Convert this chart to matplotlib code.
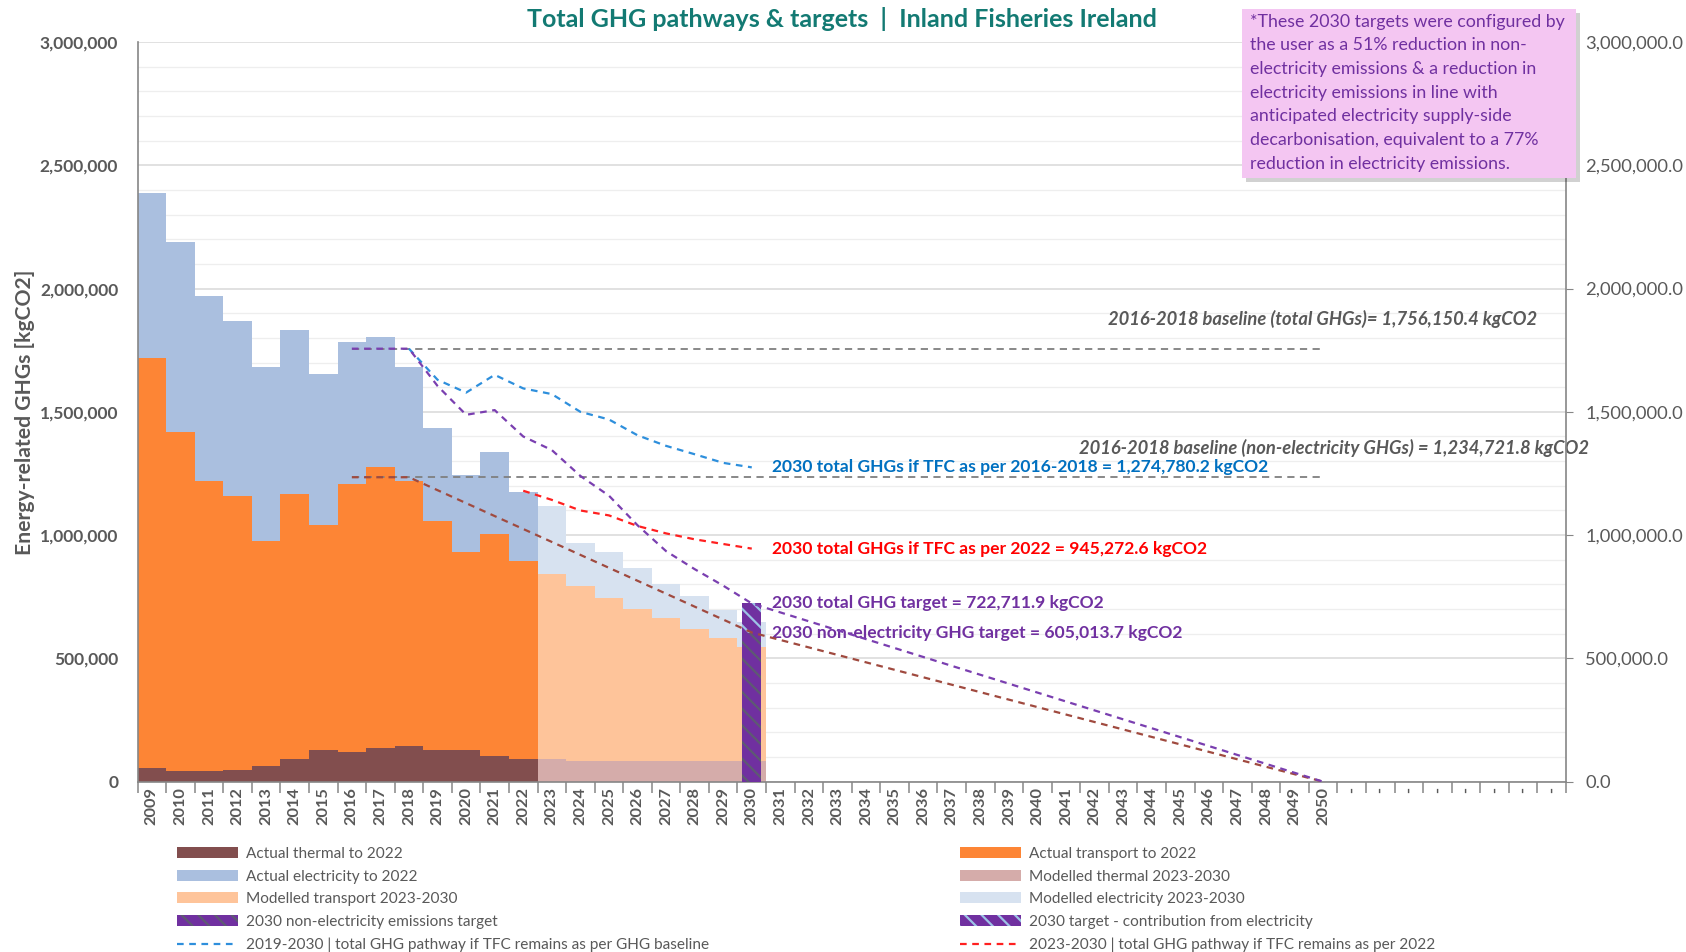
import numpy as np
import matplotlib
matplotlib.use("Agg")
import matplotlib.pyplot as plt
import matplotlib.patches as mpatches
from matplotlib.lines import Line2D
from matplotlib.ticker import FuncFormatter, MultipleLocator

plt.rcParams['font.family'] = ['Lato', 'DejaVu Sans']
plt.rcParams['hatch.linewidth'] = 1.6

# ---- data (kgCO2) ----
years_actual = list(range(2009, 2023))
thermal_actual = [55e3, 42e3, 42e3, 47e3, 63e3, 93e3, 128e3, 120e3, 137e3, 145e3, 128e3, 128e3, 106e3, 92e3]
transport_actual = [1665e3, 1378e3, 1179e3, 1113e3, 913e3, 1075e3, 914e3, 1088e3, 1138e3, 1076e3, 930e3, 804e3, 900e3, 804e3]
electricity_actual = [666e3, 768e3, 750e3, 709e3, 704e3, 662e3, 610e3, 577e3, 527e3, 460e3, 376e3, 310e3, 333e3, 278e3]

years_model = list(range(2023, 2031))
thermal_model = [90e3, 84e3, 84e3, 84e3, 84e3, 84e3, 84e3, 84e3]
transport_model = [752e3, 708e3, 661e3, 617e3, 578e3, 537e3, 498e3, 461e3]
electricity_model = [276e3, 176e3, 187e3, 165e3, 139e3, 131e3, 114e3, 104e3]

target_year = 2030
target_total = 722711.9
target_nonelec = 605013.7

baseline_total = 1756150.4
baseline_nonelec = 1234721.8
baseline_years = [2016, 2050]

blue_years = list(range(2018, 2031))
blue_vals = [1756150.4, 1630e3, 1578e3, 1650e3, 1595e3, 1572e3, 1500e3, 1469e3, 1405e3, 1362e3, 1328e3, 1293e3, 1274780.2]

red_years = list(range(2022, 2031))
red_vals = [1180e3, 1143e3, 1100e3, 1080e3, 1037e3, 1007e3, 983e3, 964e3, 945272.6]

purple_years = list(range(2016, 2031)) + [2050]
purple_vals = [1756150.4, 1756150.4, 1756150.4, 1605e3, 1488e3, 1507e3, 1400e3, 1345e3, 1240e3,
               1160e3, 1040e3, 935e3, 862e3, 795e3, 722711.9, 0]

brown_years = [2016, 2018, 2030, 2050]
brown_vals = [1234721.8, 1234721.8, 605013.7, 0]

all_years = list(range(2009, 2059))
year_labels = [str(y) for y in range(2009, 2051)] + ['-'] * 8

note_lines = [
    "*These 2030 targets were configured by",
    "the user as a 51% reduction in non-",
    "electricity emissions & a reduction in",
    "electricity emissions in line with",
    "anticipated electricity supply-side",
    "decarbonisation, equivalent to a 77%",
    "reduction in electricity emissions.",
]

# ---- colours ----
c_thermal, c_transport, c_elec = '#824e4e', '#fd8535', '#aabfdf'
c_thermal_m, c_transport_m, c_elec_m = '#d5acaa', '#fec49a', '#d7e2f0'
c_purple = '#7030a0'
c_grey_txt = '#595959'
c_axis = '#868686'

fig = plt.figure(figsize=(16.86, 9.52), dpi=100)
ax = fig.add_axes([0.0816, 0.1789, 0.8472, 0.777])

# stacked bars
b1 = np.array(thermal_actual)
b2 = b1 + np.array(transport_actual)
ax.bar(years_actual, thermal_actual, width=1, color=c_thermal, lw=0, zorder=2)
ax.bar(years_actual, transport_actual, bottom=b1, width=1, color=c_transport, lw=0, zorder=2)
ax.bar(years_actual, electricity_actual, bottom=b2, width=1, color=c_elec, lw=0, zorder=2)
m1 = np.array(thermal_model)
m2 = m1 + np.array(transport_model)
ax.bar(years_model, thermal_model, width=1, color=c_thermal_m, lw=0, zorder=2)
ax.bar(years_model, transport_model, bottom=m1, width=1, color=c_transport_m, lw=0, zorder=2)
ax.bar(years_model, electricity_model, bottom=m2, width=1, color=c_elec_m, lw=0, zorder=2)

# 2030 target bar
ax.bar(target_year, target_nonelec, width=0.67, color=c_purple, edgecolor='#5d5a72',
       hatch='\\\\', lw=0, zorder=3)
ax.bar(target_year, target_total - target_nonelec, bottom=target_nonelec, width=0.67,
       color=c_purple, edgecolor='#9dc3e6', hatch='\\\\', lw=0, zorder=3)

# pathway lines
ax.plot(baseline_years, [baseline_total] * 2, color='#7f7f7f', lw=1.3, dashes=(4, 3), zorder=4)
ax.plot(baseline_years, [baseline_nonelec] * 2, color='#7f7f7f', lw=1.3, dashes=(4, 3), zorder=4)
ax.plot(blue_years, blue_vals, color='#2e8fdc', lw=1.6, dashes=(3, 2.5), zorder=5)
ax.plot(red_years, red_vals, color='#ff2020', lw=1.6, dashes=(3, 2.5), zorder=5)
ax.plot(brown_years, brown_vals, color='#a04a3f', lw=1.6, dashes=(3, 2.5), zorder=5)
ax.plot(purple_years, purple_vals, color='#7a3fb0', lw=1.6, dashes=(3, 2.5), zorder=5)

# annotations
ax.text(2057.5, 1.875e6, "2016-2018 baseline (total GHGs)= 1,756,150.4 kgCO2", ha='right', va='center',
        fontsize=13.2, style='italic', fontweight='bold', color=c_grey_txt, zorder=6)
ax.text(2059.3, 1.352e6, "2016-2018 baseline (non-electricity GHGs) = 1,234,721.8 kgCO2", ha='right',
        va='center', fontsize=13.2, style='italic', fontweight='bold', color=c_grey_txt, zorder=6, clip_on=False)
ax.text(2030.7, 1274780.2, "2030 total GHGs if TFC as per 2016-2018 = 1,274,780.2 kgCO2", va='center',
        fontsize=12.6, fontweight='bold', color='#0070c0', zorder=6)
ax.text(2030.7, 945272.6, "2030 total GHGs if TFC as per 2022 = 945,272.6 kgCO2", va='center',
        fontsize=12.6, fontweight='bold', color='#ff0000', zorder=6)
ax.text(2030.7, target_total, "2030 total GHG target = 722,711.9 kgCO2", va='center',
        fontsize=12.6, fontweight='bold', color=c_purple, zorder=6)
ax.text(2030.7, target_nonelec, "2030 non-electricity GHG target = 605,013.7 kgCO2", va='center',
        fontsize=12.6, fontweight='bold', color=c_purple, zorder=4)

# axes styling
ax.set_xlim(2008.5, 2058.5)
ax.set_ylim(0, 3e6)
ax.yaxis.set_major_locator(MultipleLocator(5e5))
ax.yaxis.set_minor_locator(MultipleLocator(1e5))
ax.yaxis.set_major_formatter(FuncFormatter(lambda v, p: f"{v:,.0f}"))
ax.grid(axis='y', which='major', color='#d9d9d9', lw=1.1, zorder=0)
ax.grid(axis='y', which='minor', color='#eeeeee', lw=0.9, zorder=0)
ax.set_axisbelow(True)
ax.tick_params(axis='y', which='both', length=0, pad=14, labelsize=12.5, labelcolor=c_grey_txt)
for lab in ax.get_yticklabels():
    lab.set_fontweight('bold')

ax.set_xticks(np.arange(2008.5, 2059, 1))
ax.set_xticklabels([])
ax.set_xticks(all_years, minor=True)
ax.set_xticklabels(year_labels, minor=True, rotation=90, fontsize=11.8, color=c_grey_txt, fontweight='bold')
ax.tick_params(axis='x', which='major', length=8, color=c_axis, width=1.1)
ax.tick_params(axis='x', which='minor', length=0, pad=4)

for s in ['top', 'right']:
    ax.spines[s].set_visible(False)
for s in ['left', 'bottom']:
    ax.spines[s].set_color(c_axis)
    ax.spines[s].set_linewidth(1.2)

ax2 = ax.twinx()
ax2.set_ylim(0, 3e6)
ax2.yaxis.set_major_locator(MultipleLocator(5e5))
ax2.yaxis.set_major_formatter(FuncFormatter(lambda v, p: f"{v:,.1f}"))
ax2.tick_params(axis='y', length=5, color=c_axis, pad=9, labelsize=13.2, labelcolor=c_grey_txt)
for s in ['top', 'left', 'bottom']:
    ax2.spines[s].set_visible(False)
ax2.spines['right'].set_color(c_axis)
ax2.spines['right'].set_linewidth(1.2)

# titles
fig.text(0.4994, 0.980, "Total GHG pathways & targets  |  Inland Fisheries Ireland", ha='center', va='center',
         fontsize=18, fontweight='bold', color='#137a73')
fig.text(25 / 1686, 1 - 412 / 952, "Energy-related GHGs [kgCO2]", rotation=90, ha='center', va='center',
         fontsize=15.2, fontweight='bold', color=c_grey_txt)

# note box
shadow = mpatches.Rectangle((1246 / 1686, 1 - 182 / 952), 334 / 1686, 169 / 952, transform=fig.transFigure,
                            facecolor='#000000', alpha=0.18, lw=0, zorder=8)
box = mpatches.Rectangle((1242 / 1686, 1 - 178 / 952), 334 / 1686, 169 / 952, transform=fig.transFigure,
                         facecolor='#f4c6f2', lw=0, zorder=9)
fig.patches.extend([shadow, box])
for i, line in enumerate(note_lines):
    fig.text(1250 / 1686, 1 - (21.5 + i * 23.7) / 952, line, ha='left', va='center', fontsize=12.8,
             color=c_purple, zorder=10)

# legends
h_left = [
    mpatches.Patch(facecolor=c_thermal, lw=0),
    mpatches.Patch(facecolor=c_elec, lw=0),
    mpatches.Patch(facecolor=c_transport_m, lw=0),
    mpatches.Patch(facecolor=c_purple, edgecolor='#5d5a72', hatch='\\\\', lw=0),
    Line2D([], [], color='#2e8fdc', lw=1.6, dashes=(3, 2.5)),
]
l_left = ["Actual thermal to 2022", "Actual electricity to 2022", "Modelled transport 2023-2030",
          "2030 non-electricity emissions target",
          "2019-2030 | total GHG pathway if TFC remains as per GHG baseline"]
h_right = [
    mpatches.Patch(facecolor=c_transport, lw=0),
    mpatches.Patch(facecolor=c_thermal_m, lw=0),
    mpatches.Patch(facecolor=c_elec_m, lw=0),
    mpatches.Patch(facecolor=c_purple, edgecolor='#9dc3e6', hatch='\\\\', lw=0),
    Line2D([], [], color='#ff2020', lw=1.6, dashes=(3, 2.5)),
]
l_right = ["Actual transport to 2022", "Modelled thermal 2023-2030", "Modelled electricity 2023-2030",
           "2030 target - contribution from electricity",
           "2023-2030 | total GHG pathway if TFC remains as per 2022"]
leg_kw = dict(loc='upper left', frameon=False, borderpad=0, borderaxespad=0, handlelength=3.95,
              handleheight=0.7, handletextpad=0.52, labelspacing=0.56, fontsize=11.1, labelcolor=c_grey_txt)
fig.legend(h_left, l_left, bbox_to_anchor=(177 / 1686, 1 - 847 / 952), **leg_kw)
fig.legend(h_right, l_right, bbox_to_anchor=(960 / 1686, 1 - 847 / 952), **leg_kw)

fig.savefig("out.png", dpi=100)
